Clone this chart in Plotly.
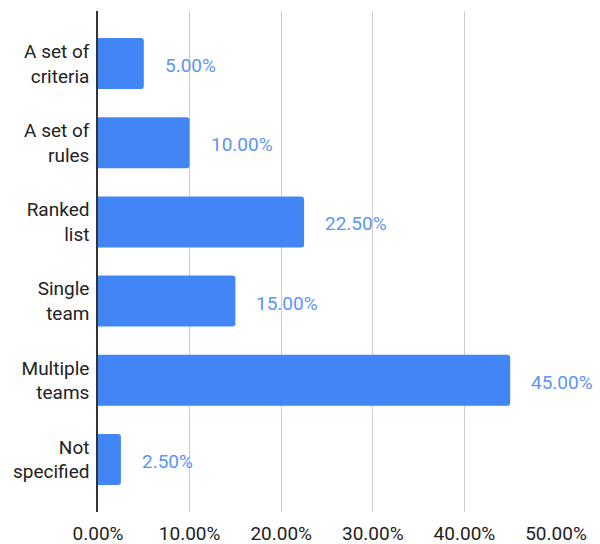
import plotly.graph_objects as go

categories = ["A set of<br>criteria", "A set of<br>rules", "Ranked<br>list", "Single<br>team",
              "Multiple<br>teams", "Not<br>specified"]
values = [5.0, 10.0, 22.5, 15.0, 45.0, 2.5]
tick_vals = [0, 10, 20, 30, 40, 50]
tick_text = ["0.00%", "10.00%", "20.00%", "30.00%", "40.00%", "50.00%"]

BLUE = "#4285F4"
FONT = "Roboto"
FS = 19

fig = go.Figure()
fig.add_trace(go.Bar(
    x=values, y=categories, orientation="h",
    marker=dict(color=BLUE, line=dict(width=0), cornerradius=3),
    width=0.645, hoverinfo="skip", cliponaxis=False,
))
for v, c in zip(values, categories):
    fig.add_annotation(x=v, y=c, text=f"{v:.2f}%", showarrow=False,
                       xanchor="left", xshift=19, yshift=-2,
                       font=dict(family=FONT, size=FS, color="#5B95F5"))

fig.update_layout(
    width=600, height=544,
    margin=dict(l=98, r=44, t=11, b=32, autoexpand=False),
    paper_bgcolor="white", plot_bgcolor="white",
    showlegend=False,
    font=dict(family=FONT, size=FS, color="#222222"),
)
fig.update_xaxes(range=[0, 50], tickvals=tick_vals, ticktext=tick_text,
                 showgrid=True, gridcolor="#CCCCCC", gridwidth=1,
                 zeroline=False, showline=False, ticks="", automargin=False,
                 ticklabelstandoff=8,
                 tickfont=dict(family=FONT, size=FS, color="#222222"))
fig.update_yaxes(range=[5.664, -0.664], showgrid=False, zeroline=False,
                 showline=True, linecolor="#333333", linewidth=1.5,
                 ticks="", ticklabelstandoff=3, automargin=False,
                 tickfont=dict(family=FONT, size=FS, color="#222222"))

fig.write_html("out.html", config={"displayModeBar": False},
               post_script="document.body.style.margin='0';")
